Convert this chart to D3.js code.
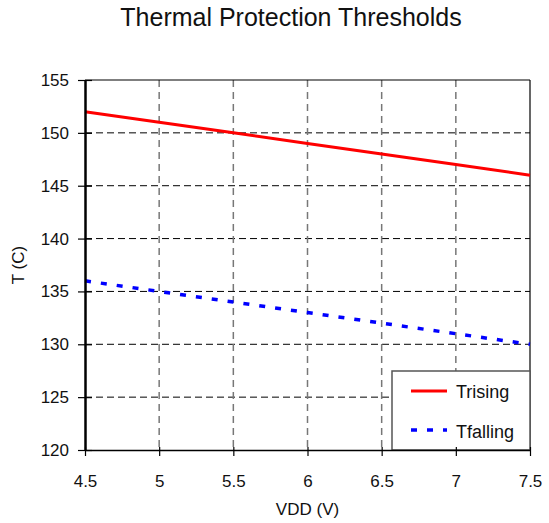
<!DOCTYPE html>
<html><head><meta charset="utf-8">
<script src="https://cdn.jsdelivr.net/npm/d3@7"></script>
<style>body{margin:0;background:#fff;}svg{display:block;font-family:Arial,"Liberation Sans",sans-serif;}</style>
</head><body>
<svg id="c" width="549" height="523"></svg>
<script>
const vdd = [4.5, 5, 5.5, 6, 6.5, 7, 7.5];
const trising = [152, 151, 150, 149, 148, 147, 146];
const tfalling = [136, 135, 134, 133, 132, 131, 130];
const xTicks = [4.5, 5, 5.5, 6, 6.5, 7, 7.5];
const yTicks = [120, 125, 130, 135, 140, 145, 150, 155];
const seriesNames = ["Trising", "Tfalling"];

const FF = "Arial,'Liberation Sans',sans-serif";
const svg = d3.select("#c");
const L = 85, R = 530, T = 80, B = 450;
const x = d3.scaleLinear().domain([4.5, 7.5]).range([L, R]);
const y = d3.scaleLinear().domain([120, 155]).range([B, T]);

// grid
svg.append("g").selectAll("line").data(yTicks.slice(1, -1)).join("line")
  .attr("x1", L).attr("x2", R).attr("y1", d => y(d)).attr("y2", d => y(d))
  .attr("stroke", "#000").attr("stroke-width", 1).attr("stroke-dasharray", "7,4");
svg.append("g").selectAll("line").data(xTicks.slice(1, -1)).join("line")
  .attr("x1", d => x(d)).attr("x2", d => x(d)).attr("y1", T).attr("y2", B)
  .attr("stroke", "#777").attr("stroke-width", 1.5).attr("stroke-dasharray", "7,5");
// frame top/right
svg.append("line").attr("x1", L).attr("x2", R).attr("y1", T).attr("y2", T).attr("stroke", "#000").attr("stroke-width", 1.2);
svg.append("line").attr("x1", R).attr("x2", R).attr("y1", T).attr("y2", B).attr("stroke", "#000").attr("stroke-width", 1.2);

// lines
const line = d3.line().x((d, i) => x(vdd[i])).y(d => y(d));
svg.append("path").datum(trising).attr("d", line).attr("fill", "none").attr("stroke", "#ff0000").attr("stroke-width", 3);
svg.append("path").datum(tfalling).attr("d", line).attr("fill", "none").attr("stroke", "#0000ff").attr("stroke-width", 3.5).attr("stroke-dasharray", "6,10");

// legend
const lg = svg.append("g");
lg.append("rect").attr("x", 392).attr("y", 371).attr("width", R - 392).attr("height", B - 371)
  .attr("fill", "#fff").attr("stroke", "#555").attr("stroke-width", 1.5);
lg.append("line").attr("x1", 411).attr("x2", 447).attr("y1", 391).attr("y2", 391).attr("stroke", "#ff0000").attr("stroke-width", 3);
lg.append("line").attr("x1", 411).attr("x2", 447).attr("y1", 430).attr("y2", 430).attr("stroke", "#0000ff").attr("stroke-width", 3.5).attr("stroke-dasharray", "6,10");
lg.append("text").attr("x", 456).attr("y", 398).attr("font-size", 18).attr("fill", "#111").text(seriesNames[0]);
lg.append("text").attr("x", 456).attr("y", 438).attr("font-size", 18).attr("fill", "#111").text(seriesNames[1]);

// axes
const xAxis = d3.axisBottom(x).tickValues(xTicks).tickFormat(d3.format("")).tickSize(6).tickSizeOuter(0).tickPadding(19);
const gx = svg.append("g").attr("transform", `translate(0,${B})`).call(xAxis);
gx.select(".domain").attr("stroke-width", 1.5);
gx.selectAll(".tick line").attr("y1", -3).attr("y2", 6).attr("stroke-width", 1.2);
gx.selectAll("text").attr("font-size", 17).attr("fill", "#111").attr("font-family", FF);

const yAxis = d3.axisLeft(y).tickValues(yTicks).tickSize(7).tickSizeOuter(0).tickPadding(9);
const gy = svg.append("g").attr("transform", `translate(${L},0)`).call(yAxis);
gy.select(".domain").attr("stroke-width", 2.5);
gy.selectAll(".tick line").attr("x1", 7).attr("x2", -7).attr("stroke-width", 1.2);
gy.selectAll("text").attr("font-size", 17).attr("fill", "#111").attr("font-family", FF);

// titles
svg.append("text").attr("x", 291).attr("y", 26).attr("text-anchor", "middle").attr("font-size", 25).attr("fill", "#111").text("Thermal Protection Thresholds");
svg.append("text").attr("x", (L + R) / 2).attr("y", 515).attr("text-anchor", "middle").attr("font-size", 17).attr("fill", "#111").text("VDD (V)");
svg.append("text").attr("transform", `translate(24,${(T + B) / 2}) rotate(-90)`).attr("text-anchor", "middle").attr("font-size", 17).attr("fill", "#111").text("T (C)");
</script>
</body></html>
